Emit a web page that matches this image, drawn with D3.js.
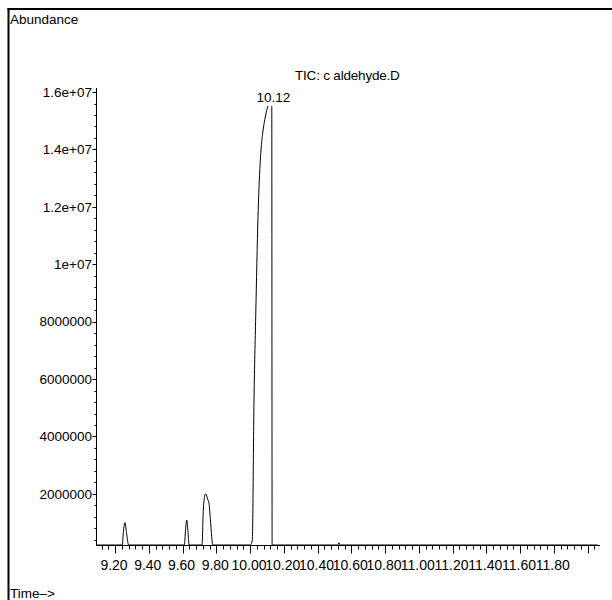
<!DOCTYPE html>
<html>
<head>
<meta charset="utf-8">
<script src="https://cdn.jsdelivr.net/npm/d3@7"></script>
<style>
  body { margin: 0; background: #fff; }
  svg text { font-family: "Liberation Sans", Arial, sans-serif; font-size: 13.5px; fill: #000; }
  svg text.xlabel { font-size: 14px; }
  svg text.title { letter-spacing: -0.2px; }
</style>
</head>
<body>
<div id="vis"></div>
<script>
// retention time (min) and abundance
var retentionTimes = [
  9.09, 9.243, 9.250, 9.259, 9.268, 9.281,
  9.611, 9.618, 9.625, 9.632, 9.639,
  9.7156, 9.7233, 9.7316, 9.7375, 9.7493, 9.757, 9.7647, 9.773, 9.779,
  10.0035, 10.0136, 10.0237, 10.0338, 10.0474, 10.0652, 10.0753, 10.088, 10.1025, 10.115, 10.129, 10.131,
  10.520, 10.527, 10.534, 12.06
];
var abundances = [
  220000, 220000, 700000, 1000000, 650000, 220000,
  220000, 750000, 1090000, 720000, 220000,
  220000, 1440000, 1930000, 2000000, 1810000, 1670000, 1150000, 510000, 220000,
  220000, 400000, 5280000, 8170000, 11660000, 13980000, 14570000, 15050000, 15440000, 15600000, 15550000, 220000,
  220000, 300000, 220000, 220000
];

var xTickValues = [9.2, 9.4, 9.6, 9.8, 10.0, 10.2, 10.4, 10.6, 10.8, 11.0, 11.2, 11.4, 11.6, 11.8, 12.0];
var xTickLabels = ['9.20', '9.40', '9.60', '9.80', '10.00', '10.20', '10.40', '10.60', '10.80', '11.00', '11.20', '11.40', '11.60', '11.80', ''];
var yTickValues = [2000000, 4000000, 6000000, 8000000, 10000000, 12000000, 14000000, 16000000];
var yTickLabels = ['2000000', '4000000', '6000000', '8000000', '1e+07', '1.2e+07', '1.4e+07', '1.6e+07'];

var peakTime = 10.129;
var peakLabel = '10.12';
var chartTitle = 'TIC: c aldehyde.D';

var width = 612;
var height = 600;

var svg = d3.select('#vis').append('svg')
  .attr('width', width)
  .attr('height', height);

// frame (left and top only)
svg.append('line').attr('x1', 8.5).attr('x2', 8.5).attr('y1', 8).attr('y2', height)
  .attr('stroke', '#000').attr('stroke-width', 2);
svg.append('line').attr('x1', 7.5).attr('x2', width).attr('y1', 9).attr('y2', 9)
  .attr('stroke', '#000').attr('stroke-width', 2);

var x = d3.scaleLinear().domain([9.0874, 12.074]).range([96, 600]);
var y = d3.scaleLinear().domain([220000, 16140000]).range([545, 88]);

// x axis: majors with labels, minors every 0.04
var xAxisG = svg.append('g').attr('transform', 'translate(0,545.5)');
xAxisG.append('line').attr('x1', 96).attr('x2', 600).attr('stroke', '#000');

var xMinor = d3.range(9.12, 12.07, 0.04).filter(function (t) {
  return Math.abs(t * 5 - Math.round(t * 5)) > 0.01;
});
xAxisG.selectAll('.xminor').data(xMinor).enter().append('line')
  .attr('x1', function (d) { return Math.round(x(d)) + 0.5; })
  .attr('x2', function (d) { return Math.round(x(d)) + 0.5; })
  .attr('y1', 0).attr('y2', 4)
  .attr('stroke', '#000');
xAxisG.selectAll('.xmajor').data(xTickValues).enter().append('line')
  .attr('x1', function (d) { return Math.round(x(d)) + 0.5; })
  .attr('x2', function (d) { return Math.round(x(d)) + 0.5; })
  .attr('y1', 0).attr('y2', 8)
  .attr('stroke', '#000');
xAxisG.selectAll('.xlabel').data(xTickValues).enter().append('text')
  .attr('class', 'xlabel')
  .attr('x', function (d) { return x(d) - 1; })
  .attr('y', 24.5)
  .attr('text-anchor', 'middle')
  .text(function (d, i) { return xTickLabels[i]; });

// y axis
var yAxisG = svg.append('g').attr('transform', 'translate(96.5,0)');
yAxisG.append('line').attr('y1', 88).attr('y2', 545.5).attr('stroke', '#000');
var yMinor = d3.range(400000, 16100000, 400000).filter(function (v) {
  return v % 2000000 !== 0;
});
yAxisG.selectAll('.yminor').data(yMinor).enter().append('line')
  .attr('y1', function (d) { return Math.round(y(d)) + 0.5; })
  .attr('y2', function (d) { return Math.round(y(d)) + 0.5; })
  .attr('x1', -2).attr('x2', 0)
  .attr('stroke', '#000');
yAxisG.selectAll('.ymajor').data(yTickValues).enter().append('line')
  .attr('y1', function (d) { return Math.round(y(d)) + 0.5; })
  .attr('y2', function (d) { return Math.round(y(d)) + 0.5; })
  .attr('x1', -4).attr('x2', 0)
  .attr('stroke', '#000');
yAxisG.selectAll('.ylabel').data(yTickValues).enter().append('text')
  .attr('x', -4.5)
  .attr('y', function (d) { return y(d); })
  .attr('dy', '0.35em')
  .attr('text-anchor', 'end')
  .text(function (d, i) { return yTickLabels[i]; });

// the trace
var points = retentionTimes.map(function (t, i) { return [t, abundances[i]]; });
var line = d3.line()
  .x(function (d) { return x(d[0]); })
  .y(function (d) { return y(d[1]); })
  .curve(d3.curveMonotoneX);

svg.append('path')
  .datum(points)
  .attr('d', line)
  .attr('fill', 'none')
  .attr('stroke', '#000')
  .attr('stroke-width', 1);

// peak label with white box behind it
var labelG = svg.append('g');
var labelBox = labelG.append('rect').attr('fill', '#fff');
var labelText = labelG.append('text')
  .attr('x', x(peakTime) + 1.5)
  .attr('y', 101.5)
  .attr('text-anchor', 'middle')
  .text(peakLabel);
var bb = labelText.node().getBBox();
labelBox.attr('x', bb.x - 1).attr('y', bb.y).attr('width', bb.width + 2).attr('height', 106 - bb.y);

// texts
svg.append('text').attr('class', 'title').attr('x', 295).attr('y', 80).text(chartTitle);
svg.append('text').attr('x', 10).attr('y', 23.5).text('Abundance');
svg.append('text').attr('x', 10).attr('y', 598).text('Time\u2013>');
</script>
</body>
</html>
